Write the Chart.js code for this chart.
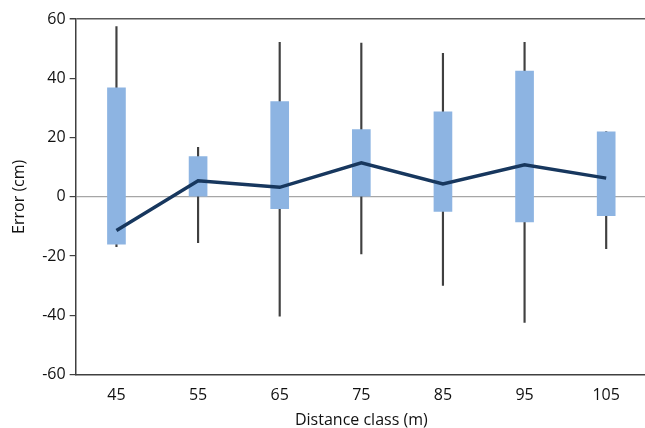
<!DOCTYPE html>
<html>
<head>
<meta charset="utf-8">
<script src="https://cdn.jsdelivr.net/npm/chart.js@4.4.1/dist/chart.umd.min.js"></script>
<style>
  html, body { margin: 0; padding: 0; background: #fff; overflow: hidden; }
  #wrap { width: 650px; height: 428px; }
</style>
</head>
<body>
<div id="wrap"><canvas id="chart" width="650" height="428"></canvas></div>
<script>
// ── Data ──────────────────────────────────────────────
const classes   = ['45', '55', '65', '75', '85', '95', '105'];
const boxLow    = [-16.0, 0.0, -4.0, 0.0, -4.9, -8.5, -6.4];
const boxHigh   = [36.8, 13.6, 32.1, 22.7, 28.7, 42.4, 21.9];
const whiskLow  = [-16.8, -15.5, -40.3, -19.3, -29.9, -42.4, -17.5];
const whiskHigh = [57.4, 16.7, 52.1, 51.9, 48.4, 52.1, 22.0];
const meanError = [-11.4, 5.4, 3.2, 11.5, 4.3, 10.8, 6.3];
const yTicks    = [-60, -40, -20, 0, 20, 40, 60];

const FONT = "'Open Sans', sans-serif";
const BOX  = '#8db4e2';
const NAVY = '#17375e';
const INK  = '#404040';
const TXT  = '#111';

new Chart(document.getElementById('chart'), {
  type: 'bar',
  data: {
    labels: classes,
    datasets: [
      {
        type: 'line',
        label: 'Mean',
        data: meanError,
        borderColor: NAVY,
        borderWidth: 3.5,
        pointRadius: 0,
        tension: 0,
        order: 0
      },
      {
        label: 'Box',
        data: boxLow.map((v, i) => [v, boxHigh[i]]),
        backgroundColor: BOX,
        barThickness: 18,
        grouped: false,
        borderSkipped: false,
        order: 1
      },
      {
        label: 'Range',
        data: whiskLow.map((v, i) => [v, whiskHigh[i]]),
        backgroundColor: INK,
        barThickness: 1.5,
        grouped: false,
        order: 2
      }
    ]
  },
  options: {
    responsive: false,
    animation: false,
    layout: { padding: { top: 19, right: 3, left: 10, bottom: -2 } },
    plugins: { legend: { display: false }, tooltip: { enabled: false } },
    scales: {
      x: {
        offset: true,
        grid: { display: false },
        border: { display: true, color: INK, width: 1.5 },
        ticks: { color: TXT, font: { family: FONT, size: 16 }, padding: 3 },
        title: {
          display: true, text: 'Distance class (m)', color: TXT,
          font: { family: FONT, size: 16 }, padding: { top: 3, bottom: 0 }
        }
      },
      y: {
        min: -60, max: 60,
        afterBuildTicks: axis => { axis.ticks = yTicks.map(v => ({ value: v })); },
        grid: {
          color: ctx => ctx.tick && ctx.tick.value === 0 ? '#a6a6a6'
                      : ctx.tick && ctx.tick.value === 60 ? '#595959' : 'rgba(0,0,0,0)',
          lineWidth: ctx => ctx.tick && ctx.tick.value === 60 ? 1.5 : 1.2,
          tickColor: INK,
          tickLength: 6,
          drawTicks: true
        },
        border: { display: true, color: INK, width: 1.5 },
        ticks: { color: TXT, font: { family: FONT, size: 16 }, padding: 4 },
        title: {
          display: true, text: 'Error (cm)', color: TXT,
          font: { family: FONT, size: 16 }, padding: { top: 0, bottom: 9 }
        }
      }
    }
  }
});
</script>
</body>
</html>
